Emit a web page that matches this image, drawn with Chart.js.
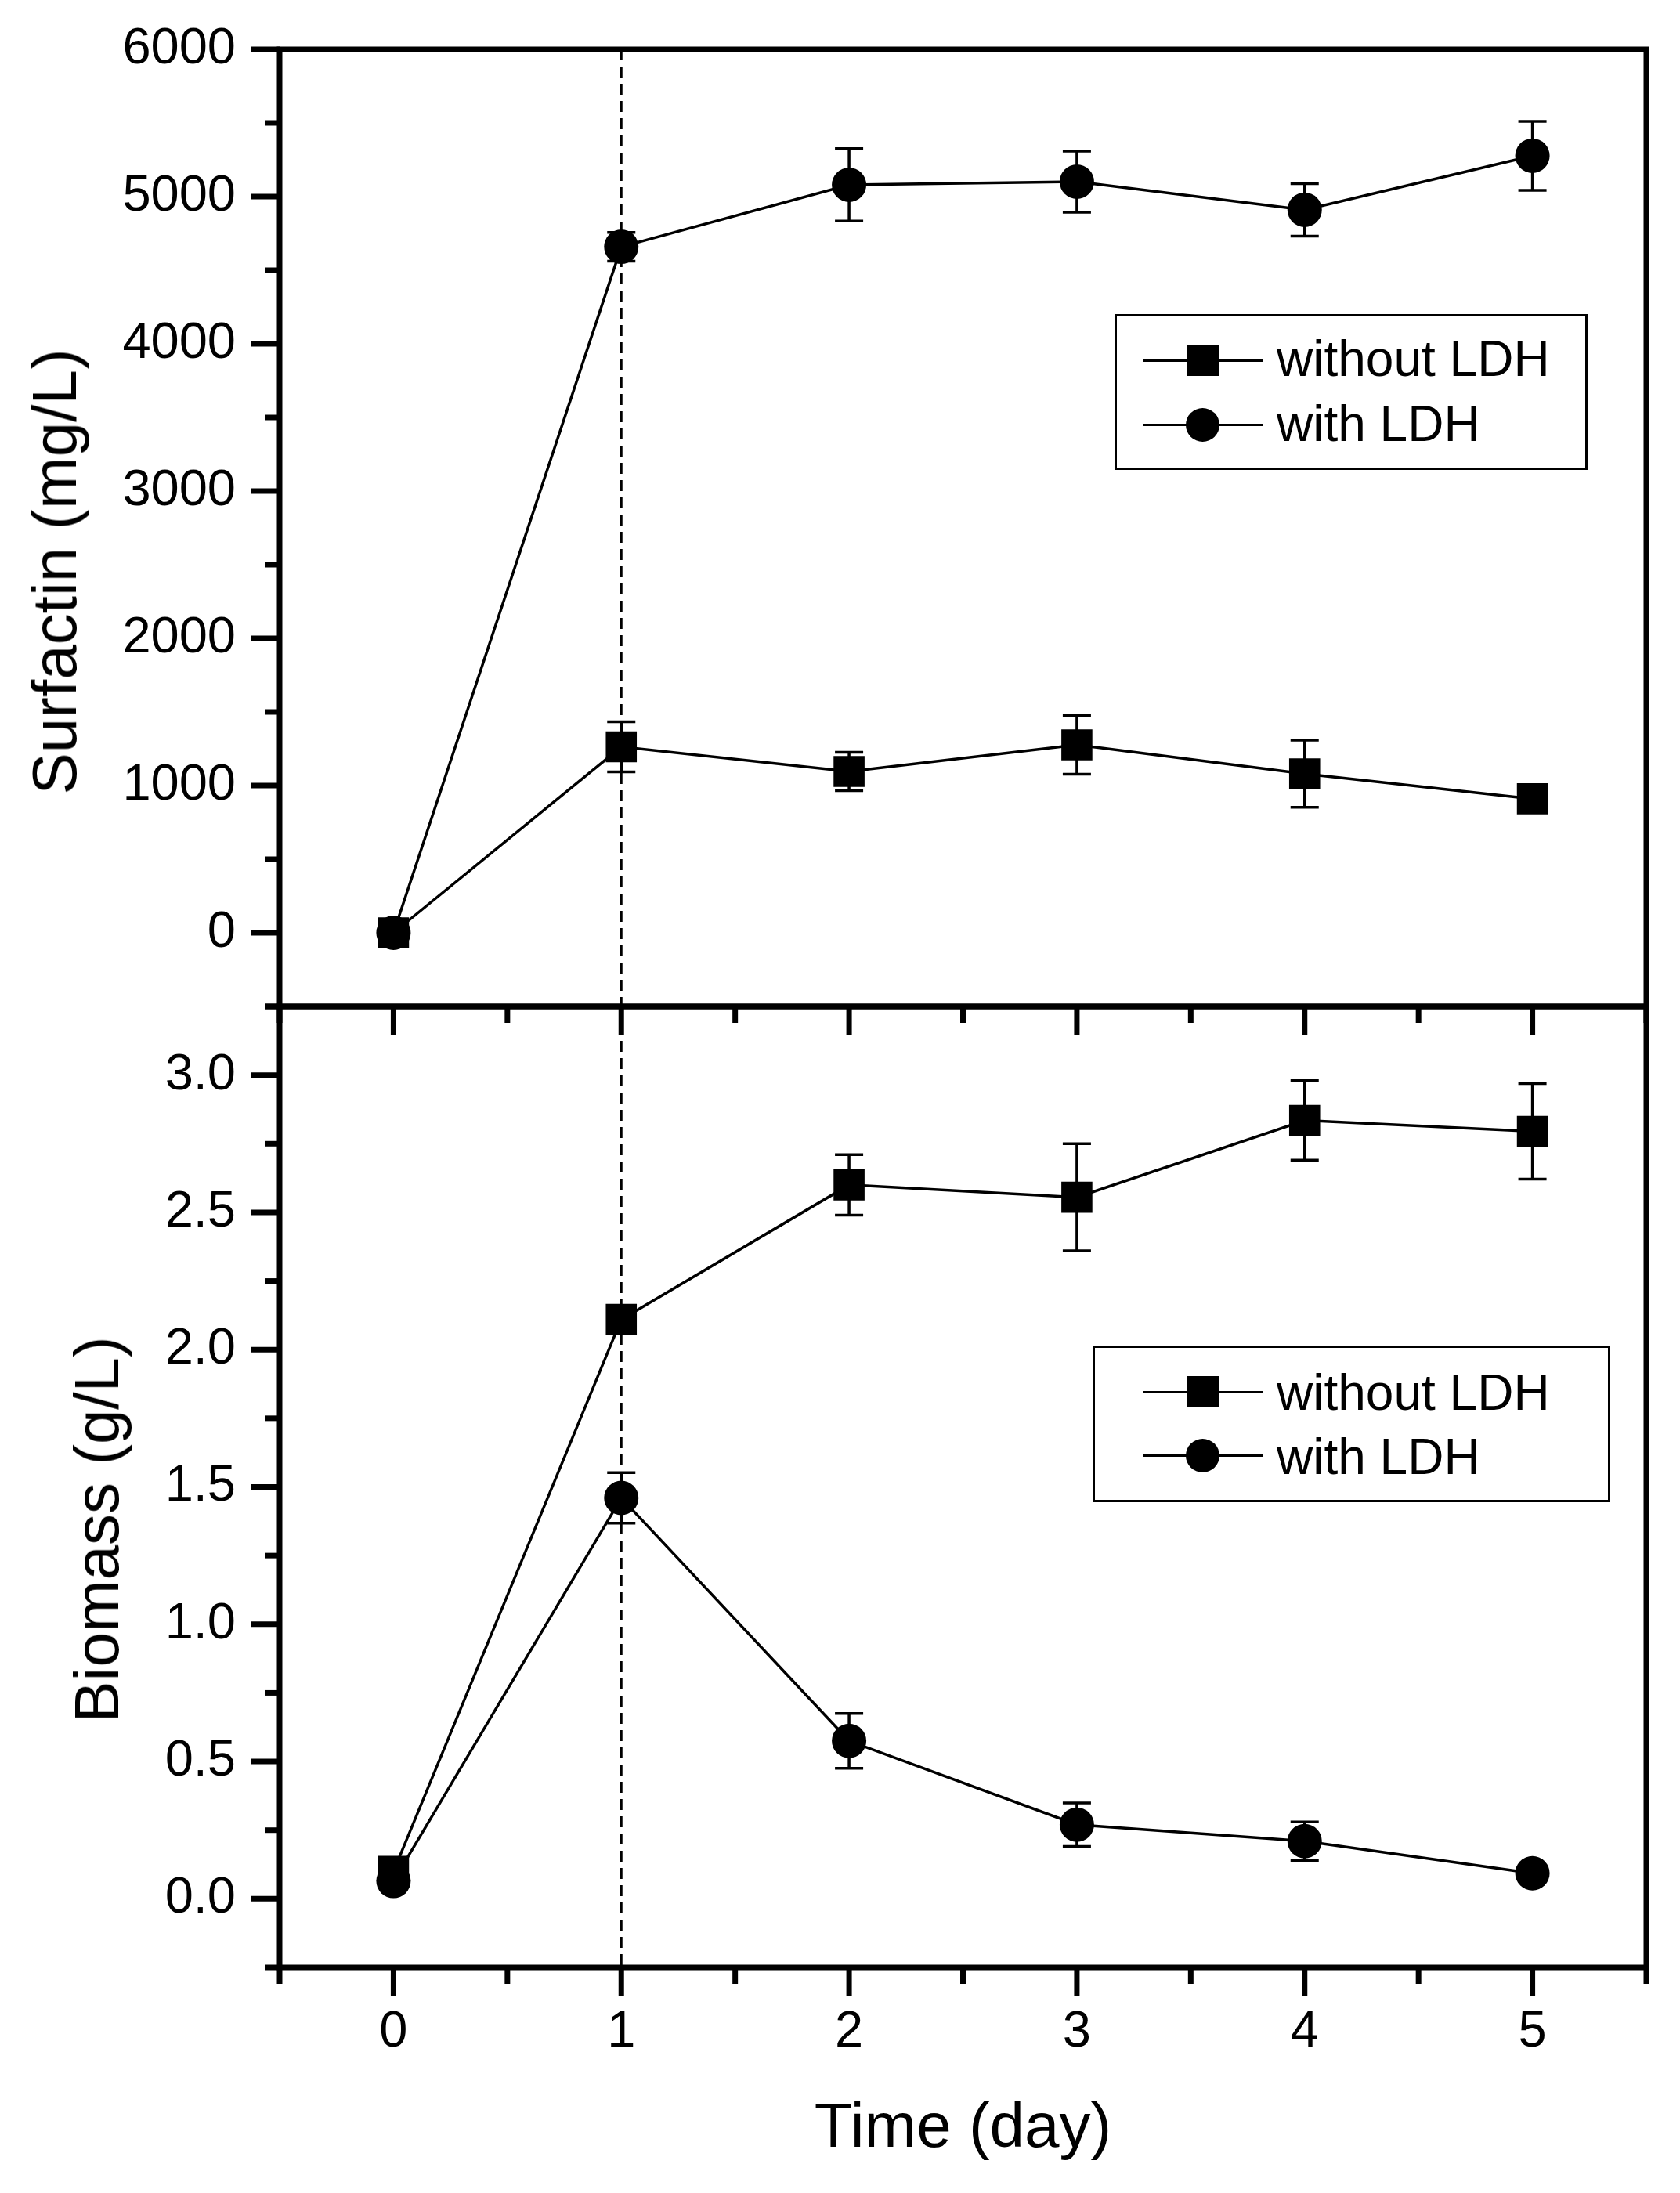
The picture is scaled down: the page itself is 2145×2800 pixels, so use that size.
<!DOCTYPE html>
<html>
<head>
<meta charset="utf-8">
<title>Surfactin and biomass with / without LDH</title>
<script src="https://cdn.jsdelivr.net/npm/chart.js@4.4.1/dist/chart.umd.min.js"></script>
<style>
  html, body { margin: 0; padding: 0; background: #fff; }
  body { width: 2145px; height: 2800px; position: relative; overflow: hidden;
         font-family: 'Liberation Sans', Arial, sans-serif; color: #000; }
  canvas { position: absolute; left: 0; top: 0; }
  .ytitle { position: absolute; font-size: 80px; line-height: 80px; white-space: nowrap;
            transform: translate(-50%, -50%) rotate(-90deg); }
  .legend-box { position: absolute; border: 3px solid #000; box-sizing: border-box; }
  .lg-line { position: absolute; height: 3px; background: #000; }
  .lg-sq { position: absolute; width: 40px; height: 40px; background: #000; }
  .lg-dot { position: absolute; width: 43px; height: 43px; border-radius: 50%; background: #000; }
  .lg-text { position: absolute; font-size: 64px; line-height: 64px; white-space: nowrap; }
</style>
</head>
<body>
<canvas id="bioChart" width="2145" height="2800"></canvas>
<canvas id="surfChart" width="2145" height="2800"></canvas>
<div class="ytitle" style="left:70px; top:730px;">Surfactin (mg/L)</div>
<div class="ytitle" style="left:124px; top:1953px;">Biomass (g/L)</div>
<script>
// data
const days = [0, 1, 2, 3, 4, 5];
const seriesNames = ['without LDH', 'with LDH'];

const surfWithout = [0, 1263, 1096, 1277, 1080, 910];
const surfWithoutErr = [20, 170, 130, 200, 228, 50];
const surfWith = [0, 4659, 5080, 5101, 4910, 5277];
const surfWithErr = [20, 98, 246, 208, 178, 234];

const bioWithout = [0.10, 2.11, 2.60, 2.555, 2.835, 2.795];
const bioWithoutErr = [0.01, 0.04, 0.11, 0.195, 0.145, 0.174];
const bioWith = [0.065, 1.46, 0.575, 0.27, 0.21, 0.093];
const bioWithErr = [0.01, 0.092, 0.10, 0.079, 0.07, 0.02];

// tick positions
const dayTicks = [0, 1, 2, 3, 4, 5];
const dayMinor = [-0.5, 0.5, 1.5, 2.5, 3.5, 4.5, 5.5];
const surfTicks = [0, 1000, 2000, 3000, 4000, 5000, 6000];
const surfMinor = [-500, 500, 1500, 2500, 3500, 4500, 5500];
const bioTicks = [0, 0.5, 1.0, 1.5, 2.0, 2.5, 3.0];
const bioMinor = [-0.25, 0.25, 0.75, 1.25, 1.75, 2.25, 2.75, 3.25];

const FONT = "'Liberation Sans', Arial, sans-serif";
Chart.defaults.font.family = FONT;
Chart.defaults.color = '#000';

function pts(values) {
  return days.map((d, i) => ({ x: d, y: values[i] }));
}

function line(ctx, x1, y1, x2, y2) {
  ctx.beginPath();
  ctx.moveTo(x1, y1);
  ctx.lineTo(x2, y2);
  ctx.stroke();
}

// frame + major/minor ticks, Origin style
function frameTicks(yMajor, yMinor, xMajor, xMinor) {
  return {
    id: 'frameTicks',
    afterDraw(chart) {
      const { ctx, chartArea: a, scales: { x, y } } = chart;
      ctx.save();
      ctx.strokeStyle = '#000';
      ctx.lineWidth = 7;
      ctx.strokeRect(a.left, a.top, a.right - a.left, a.bottom - a.top);
      yMajor.forEach(v => { const p = y.getPixelForValue(v); line(ctx, a.left, p, a.left - 36, p); });
      yMinor.forEach(v => { const p = y.getPixelForValue(v); line(ctx, a.left, p, a.left - 19, p); });
      xMajor.forEach(v => { const p = x.getPixelForValue(v); line(ctx, p, a.bottom, p, a.bottom + 36); });
      xMinor.forEach(v => { const p = x.getPixelForValue(v); line(ctx, p, a.bottom, p, a.bottom + 21); });
      ctx.restore();
    }
  };
}

const errorBars = {
  id: 'errorBars',
  beforeDatasetsDraw(chart) {
    const { ctx, scales: { y } } = chart;
    ctx.save();
    ctx.strokeStyle = '#000';
    ctx.lineWidth = 3.5;
    chart.data.datasets.forEach((ds, i) => {
      chart.getDatasetMeta(i).data.forEach((pt, j) => {
        const v = ds.data[j].y, e = ds.errors[j];
        const top = y.getPixelForValue(v + e), bot = y.getPixelForValue(v - e);
        line(ctx, pt.x, top, pt.x, bot);
        line(ctx, pt.x - 18, top, pt.x + 18, top);
        line(ctx, pt.x - 18, bot, pt.x + 18, bot);
      });
    });
    ctx.restore();
  }
};

// dashed marker at day 1
const dayOneLine = {
  id: 'dayOneLine',
  beforeDatasetsDraw(chart) {
    const { ctx, chartArea: a, scales: { x } } = chart;
    const p = x.getPixelForValue(1);
    ctx.save();
    ctx.strokeStyle = '#000';
    ctx.lineWidth = 3;
    ctx.setLineDash([14, 8]);
    line(ctx, p, a.top, p, a.bottom);
    ctx.restore();
  }
};

function datasets(a, aErr, b, bErr) {
  const common = {
    borderColor: '#000', borderWidth: 3.5, tension: 0,
    pointBackgroundColor: '#000', pointBorderWidth: 0, pointHoverRadius: 0
  };
  return [
    Object.assign({ label: seriesNames[0], data: pts(a), errors: aErr, pointStyle: 'rect', pointRadius: 28 }, common),
    Object.assign({ label: seriesNames[1], data: pts(b), errors: bErr, pointStyle: 'circle', pointRadius: 22 }, common)
  ];
}

const tickFont = { size: 65, lineHeight: 1 };

function yAxis(min, max, ticks, fmt) {
  return {
    min: min, max: max,
    afterFit: s => { s.width = 357; s.paddingTop = 0; s.paddingBottom = 0; },
    afterBuildTicks: s => { s.ticks = ticks.map(v => ({ value: v })); },
    grid: { display: false, drawTicks: false },
    border: { display: false },
    ticks: { padding: 56, font: tickFont, color: '#000', callback: fmt }
  };
}

new Chart(document.getElementById('surfChart'), {
  type: 'line',
  data: { datasets: datasets(surfWithout, surfWithoutErr, surfWith, surfWithErr) },
  options: {
    responsive: false, animation: false, devicePixelRatio: 1,
    layout: { padding: { left: 0, top: 63, right: 43, bottom: 1515 } },
    plugins: { legend: { display: false }, tooltip: { enabled: false } },
    scales: {
      x: { type: 'linear', min: -0.5, max: 5.5, display: false },
      y: yAxis(-500, 6000, surfTicks, v => String(v))
    }
  },
  plugins: [dayOneLine, errorBars, frameTicks(surfTicks, surfMinor, dayTicks, dayMinor)]
});

new Chart(document.getElementById('bioChart'), {
  type: 'line',
  data: { datasets: datasets(bioWithout, bioWithoutErr, bioWith, bioWithErr) },
  options: {
    responsive: false, animation: false, devicePixelRatio: 1,
    layout: { padding: { left: 0, top: 1285, right: 43, bottom: 0 } },
    plugins: { legend: { display: false }, tooltip: { enabled: false } },
    scales: {
      x: {
        type: 'linear', min: -0.5, max: 5.5,
        afterFit: s => { s.height = 288; s.paddingLeft = 0; s.paddingRight = 0; },
        afterBuildTicks: s => { s.ticks = dayTicks.map(v => ({ value: v })); },
        grid: { display: false, drawTicks: false },
        border: { display: false },
        ticks: { padding: 51, font: tickFont, color: '#000', callback: v => String(v) },
        title: { display: true, text: 'Time (day)', color: '#000',
                 font: { size: 80, lineHeight: 1 }, padding: { top: 0, bottom: 41 } }
      },
      y: yAxis(-0.25, 3.25, bioTicks, v => v.toFixed(1))
    }
  },
  plugins: [dayOneLine, errorBars, frameTicks(bioTicks, bioMinor, dayTicks, dayMinor)]
});

// legends (HTML, placed inside each panel)
function addLegend(box, rowY, baseY) {
  const b = document.createElement('div');
  b.className = 'legend-box';
  b.style.cssText = `left:${box[0]}px; top:${box[1]}px; width:${box[2]}px; height:${box[3]}px;`;
  document.body.appendChild(b);
  seriesNames.forEach((name, i) => {
    const ln = document.createElement('div');
    ln.className = 'lg-line';
    ln.style.cssText = `left:1460px; width:152px; top:${rowY[i] - 1.5}px;`;
    document.body.appendChild(ln);
    const mk = document.createElement('div');
    mk.className = i === 0 ? 'lg-sq' : 'lg-dot';
    const half = i === 0 ? 20 : 21.5;
    mk.style.cssText = `left:${1535.5 - half}px; top:${rowY[i] - half}px;`;
    document.body.appendChild(mk);
    const tx = document.createElement('div');
    tx.className = 'lg-text';
    tx.textContent = name;
    tx.style.cssText = `left:1630px; top:${baseY[i] - 54}px;`;
    document.body.appendChild(tx);
  });
}
addLegend([1423, 401, 604, 199], [460, 542], [480, 563]);
addLegend([1395, 1718, 661, 200], [1777, 1858], [1800, 1882]);
</script>
</body>
</html>
